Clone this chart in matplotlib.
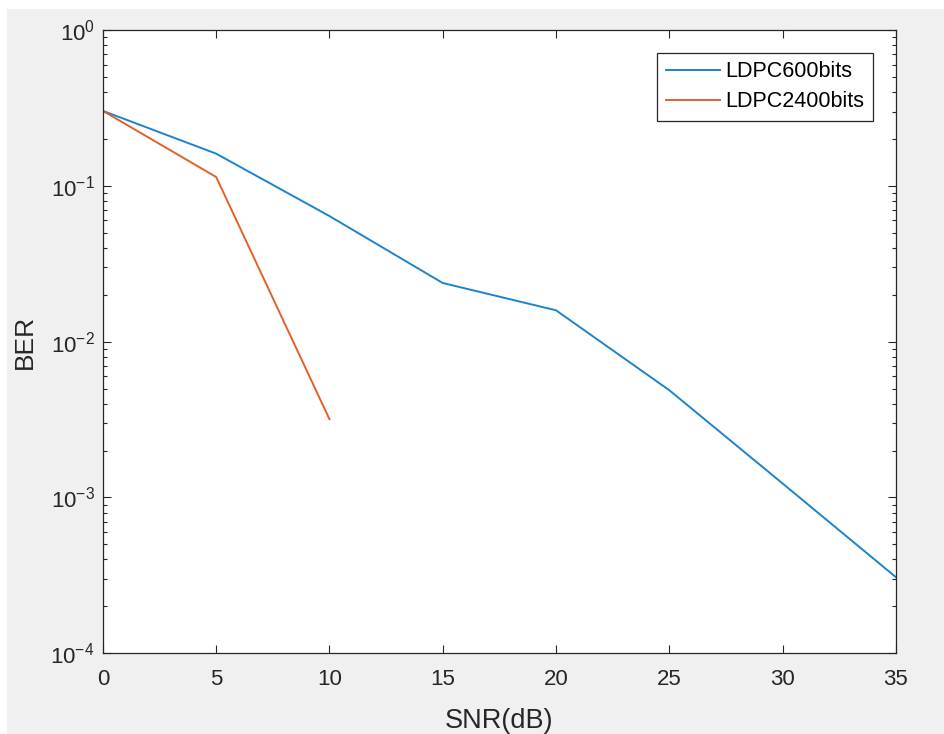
import matplotlib.pyplot as plt
from matplotlib.ticker import LogLocator, FixedLocator
from matplotlib.patches import Rectangle

plt.rcParams['font.family'] = ['Liberation Sans', 'DejaVu Sans']
plt.rcParams['mathtext.default'] = 'regular'
plt.rcParams['axes.unicode_minus'] = False

snr_600 = [0, 5, 10, 15, 20, 25, 30, 35]
ber_600 = [0.303, 0.161, 0.064, 0.0238, 0.0159, 0.00488, 0.00123, 0.000308]
snr_2400 = [0, 5, 10]
ber_2400 = [0.303, 0.114, 0.00318]
names = ['LDPC600bits', 'LDPC2400bits']

bg = '#f0f0f0'
txt = '#262626'

fig = plt.figure(figsize=(9.44, 7.34), dpi=100, facecolor='white')
# grey window area, thin white strip on top and left
fig.patches.append(Rectangle((7 / 944, -0.1), 1.1, 1.1 - 9 / 734, transform=fig.transFigure,
                             facecolor=bg, edgecolor='none', zorder=-10))
ax = fig.add_axes([0.109, 0.110, 0.840, 0.849])
ax.set_facecolor('white')

ax.semilogy(snr_600, ber_600, color='#1c84cc', lw=1.4, label=names[0])
ax.semilogy(snr_2400, ber_2400, color='#e0622a', lw=1.4, label=names[1])

ax.set_xlim(0, 35)
ax.set_ylim(1e-4, 1)
ax.xaxis.set_major_locator(FixedLocator(range(0, 36, 5)))
ax.yaxis.set_major_locator(LogLocator(base=10, numticks=10))
ax.yaxis.set_minor_locator(LogLocator(base=10, subs=range(2, 10), numticks=10))

ax.tick_params(which='both', direction='in', top=True, right=True,
               colors=txt, labelsize=16)
ax.tick_params(axis='x', pad=11)
ax.tick_params(axis='y', pad=6)
ax.tick_params(which='major', length=6, width=0.8)
ax.tick_params(which='minor', length=3, width=0.8)
for s in ax.spines.values():
    s.set_color(txt)
    s.set_linewidth(0.9)

ax.set_xlabel('SNR(dB)', fontsize=19.5, color=txt, labelpad=13)
ax.set_ylabel('BER', fontsize=19, color=txt, labelpad=10)

leg = ax.legend(loc='upper right', bbox_to_anchor=(0.971, 0.964), fontsize=15.5,
                fancybox=False, framealpha=1, edgecolor=txt,
                handlelength=2.5, handletextpad=0.25, borderpad=0.4,
                labelspacing=0.43, borderaxespad=0)
leg.get_frame().set_linewidth(0.9)

fig.savefig('out.png', dpi=100, facecolor='white')
